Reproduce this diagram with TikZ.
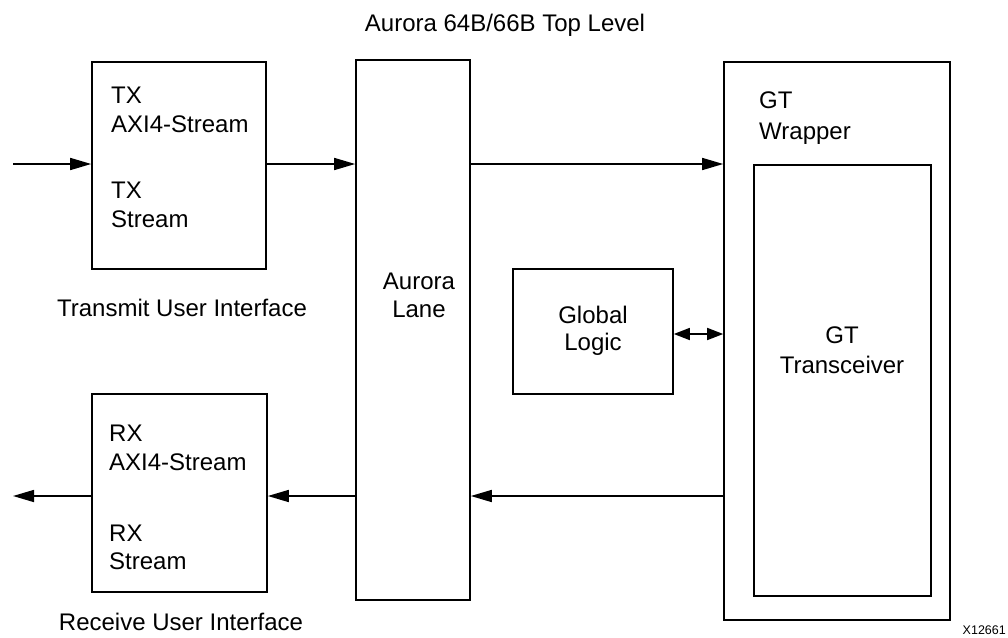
\documentclass[tikz,border=0pt]{standalone}
\usepackage{fontspec}
\setmainfont{Liberation Sans}
\usetikzlibrary{arrows.meta}
\begin{document}
\begin{tikzpicture}[x=1pt,y=-1pt,
  blk/.style={draw, line width=1.6pt, inner sep=0pt, rectangle},
  lbl/.style={font=\fontsize{24}{29}\selectfont, inner sep=0pt},
  lblw/.style={lbl, anchor=base west},
  lblc/.style={lbl, anchor=base},
  conn/.style={line width=1.6pt, -{Triangle[length=21pt,width=12pt]}},
  dconn/.style={line width=1.6pt, {Triangle[length=16pt,width=12pt]}-{Triangle[length=16pt,width=12pt]}},
]
\useasboundingbox (0,0) rectangle (1008,637);
% boxes
\node[blk, minimum width=174pt, minimum height=207pt] (tx) at (179,165.5) {};
\node[blk, minimum width=175pt, minimum height=198pt] (rx) at (179.5,493) {};
\node[blk, minimum width=114pt, minimum height=540pt] (lane) at (413,330) {};
\node[blk, minimum width=160pt, minimum height=125pt] (glob) at (593,331.5) {};
\node[blk, minimum width=226pt, minimum height=558pt] (gtw) at (837,341) {};
\node[blk, minimum width=177pt, minimum height=431pt] (gtt) at (842.5,380.5) {};
% texts
\node[lblc] (title) at (505,31) {Aurora 64B/66B Top Level};
\node[lblw] (tx1) at (111,103) {TX};
\node[lblw] (tx2) at (111,132) {AXI4-Stream};
\node[lblw] (tx3) at (111,198) {TX};
\node[lblw] (tx4) at (111,227) {Stream};
\node[lblc] (txl) at (182,316) {Transmit User Interface};
\node[lblw] (rx1) at (109,441) {RX};
\node[lblw] (rx2) at (109,470) {AXI4-Stream};
\node[lblw] (rx3) at (109,541) {RX};
\node[lblw] (rx4) at (109,569) {Stream};
\node[lblc] (rxl) at (181,630) {Receive User Interface};
\node[lblc] (la1) at (419,289) {Aurora};
\node[lblc] (la2) at (419,317) {Lane};
\node[lblc] (gl1) at (593,323) {Global};
\node[lblc] (gl2) at (593,350) {Logic};
\node[lblw] (gw1) at (759,108) {GT};
\node[lblw] (gw2) at (759,139) {Wrapper};
\node[lblc] (gt1) at (842,343) {GT};
\node[lblc] (gt2) at (842,373) {Transceiver};
\node[font=\fontsize{12.5}{14}\selectfont, inner sep=0pt, anchor=base east] (fig) at (1006,634) {X12661};
% connectors
\coordinate (in) at (13,164);
\coordinate (out) at (13,496);
\coordinate (ytx) at (0,164);
\coordinate (yrx) at (0,496);
\coordinate (ygl) at (0,334);
\draw[conn] (in) -- (in -| tx.west);
\draw[conn] (ytx -| tx.east) -- (ytx -| lane.west);
\draw[conn] (ytx -| lane.east) -- (ytx -| gtw.west);
\draw[conn] (yrx -| gtw.west) -- (yrx -| lane.east);
\draw[conn] (yrx -| lane.west) -- (yrx -| rx.east);
\draw[conn] (yrx -| rx.west) -- (out);
\draw[dconn] (ygl -| glob.east) -- (ygl -| gtw.west);
\end{tikzpicture}
\end{document}
